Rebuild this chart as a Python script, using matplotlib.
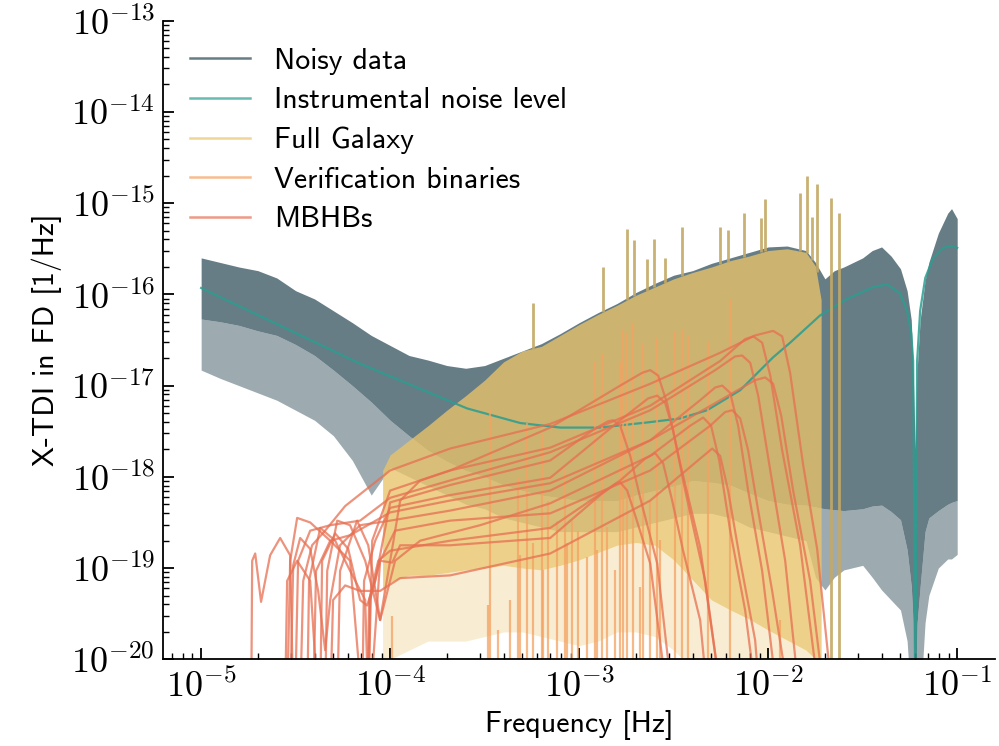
import numpy as np
import matplotlib.pyplot as plt
from matplotlib.ticker import LogLocator, NullFormatter, FuncFormatter
from matplotlib.lines import Line2D

plt.rcParams['font.family'] = ['cmss10', 'DejaVu Sans']
plt.rcParams['mathtext.fontset'] = 'cm'
plt.rcParams['axes.formatter.use_mathtext'] = True
plt.rcParams['font.size'] = 21.5

# все значения, в log10
# noisy data: верх, плотное ядро снизу, нижний край выбросов
noisy_logf = [-5.0, -4.9, -4.8, -4.7, -4.6, -4.5, -4.4, -4.3, -4.2, -4.1,
              -4.0, -3.9, -3.8, -3.7, -3.6, -3.5, -3.4, -3.3, -3.2, -3.1,
              -3.0, -2.9, -2.8, -2.7, -2.6, -2.5, -2.4, -2.3, -2.2, -2.1,
              -2.0, -1.9, -1.8, -1.75, -1.7, -1.65, -1.6, -1.5, -1.45, -1.4,
              -1.35, -1.3, -1.265, -1.243, -1.233, -1.222, -1.212, -1.196, -1.17, -1.15,
              -1.1, -1.05, -1.03, -1.0]
noisy_top = [-15.60, -15.65, -15.70, -15.74, -15.82, -15.96, -16.05, -16.18, -16.31, -16.45,
             -16.56, -16.67, -16.72, -16.78, -16.81, -16.78, -16.70, -16.62, -16.54, -16.43,
             -16.31, -16.20, -16.10, -15.98, -15.88, -15.79, -15.74, -15.66, -15.60, -15.54,
             -15.48, -15.47, -15.52, -15.65, -15.83, -15.74, -15.70, -15.60, -15.52, -15.48,
             -15.58, -15.72, -15.96, -16.28, -16.83, -17.70, -16.83, -16.28, -15.85, -15.65,
             -15.33, -15.11, -15.06, -15.17]
noisy_core = [-16.27, -16.30, -16.34, -16.40, -16.45, -16.55, -16.67, -16.83, -17.00, -17.18,
              -17.38, -17.55, -17.71, -17.83, -17.93, -18.00, -18.09, -18.15, -18.20, -18.23,
              -18.26, -18.26, -18.26, -18.20, -18.15, -18.10, -18.04, -18.06, -18.09, -18.18,
              -18.26, -18.30, -18.31, -18.33, -18.35, -18.36, -18.37, -18.35, -18.32, -18.31,
              -18.38, -18.47, -18.80, -19.20, -19.60, -20.5, -19.60, -19.20, -18.60, -18.45,
              -18.37, -18.30, -18.28, -18.26]
noisy_spikes = [-16.83, -16.92, -17.00, -17.08, -17.16, -17.27, -17.38, -17.55, -17.82, -18.20,
                -17.90, -18.00, -18.10, -18.20, -18.30, -18.35, -18.45, -18.50, -18.55, -18.60,
                -18.60, -18.60, -18.60, -18.55, -18.50, -18.45, -18.40, -18.40, -18.45, -18.55,
                -18.60, -18.65, -18.70, -19.10, -19.24, -19.10, -19.02, -18.97, -19.10, -19.24,
                -19.35, -19.46, -19.80, -20.5, -20.5, -20.5, -20.5, -20.5, -19.60, -19.30,
                -19.00, -18.90, -18.90, -18.85]

# instrumental noise level
instr_logf = [-5.0, -4.159, -3.593, -3.312, -3.101, -2.889, -2.624, -2.466, -2.323, -2.148,
              -1.974, -1.884, -1.725, -1.582, -1.444, -1.370, -1.302, -1.265, -1.243, -1.233,
              -1.222, -1.212, -1.196, -1.169, -1.127, -1.074, -1.026, -1.0]
instr_val = [-15.93, -16.76, -17.25, -17.41, -17.46, -17.46, -17.40, -17.36, -17.27, -17.05,
             -16.69, -16.53, -16.23, -16.05, -15.92, -15.89, -15.99, -16.18, -16.43, -16.73,
             -20.5, -16.73, -16.18, -15.82, -15.60, -15.49, -15.47, -15.49]

# full galaxy: верх, плотная часть снизу, нижний край выбросов
gal_logf = [-4.04, -4.0, -3.9, -3.8, -3.7, -3.6, -3.5, -3.4, -3.3, -3.2,
            -3.1, -3.0, -2.9, -2.8, -2.7, -2.6, -2.5, -2.4, -2.3, -2.2,
            -2.1, -2.0, -1.9, -1.8, -1.75, -1.72]
gal_top = [-17.93, -17.76, -17.60, -17.44, -17.27, -17.11, -16.94, -16.74, -16.62, -16.57,
           -16.45, -16.33, -16.22, -16.12, -16.01, -15.92, -15.83, -15.76, -15.70, -15.63,
           -15.58, -15.52, -15.50, -15.54, -15.69, -16.06]
gal_low = [-19.24, -19.15, -19.08, -19.08, -19.05, -19.02, -19.00, -18.97, -19.00, -19.02,
           -18.97, -18.91, -18.83, -18.75, -18.72, -18.75, -18.91, -19.13, -19.35, -19.46,
           -19.56, -19.68, -19.79, -19.90, -20.0, -20.5]
gal_spikes = [-20.5, -20.0, -19.9, -19.8, -19.8, -19.8, -19.75, -19.7, -19.7, -19.75,
              -19.8, -19.85, -19.8, -19.7, -19.7, -19.75, -19.9, -20.1, -20.5, -20.5,
              -20.5, -20.5, -20.5, -20.5, -20.5, -20.5]
# отдельные высокие линии галактики: частота, вершина, основание
gal_peak_logf = [-3.243, -2.873, -2.746, -2.709, -2.640, -2.603, -2.545, -2.455, -2.254, -2.212,
                 -2.127, -2.037, -2.016, -1.831, -1.794, -1.767, -1.741, -1.667, -1.624]
gal_peak_tip = [-16.10, -15.70, -15.28, -15.40, -15.61, -15.39, -15.60, -15.26, -15.26, -15.29,
                -15.11, -15.16, -14.96, -14.89, -14.70, -15.15, -14.79, -14.94, -15.11]
gal_peak_base = [-16.60, -16.19, -16.06, -16.02, -15.96, -15.92, -15.87, -15.80, -15.67, -15.64,
                 -15.59, -15.54, -15.53, -15.52, -15.55, -15.62, -15.75, -20.5, -20.5]

# verification binaries
vb_logf = [-3.989, -3.481, -3.471, -3.429, -3.365, -3.323, -3.312, -3.275, -3.243, -3.196,
           -3.190, -3.164, -3.116, -3.074, -3.063, -3.037, -3.005, -2.958, -2.915, -2.905,
           -2.878, -2.852, -2.810, -2.783, -2.767, -2.746, -2.714, -2.677, -2.661, -2.624,
           -2.587, -2.571, -2.492, -2.455, -2.423, -2.317, -2.201, -1.937]
vb_tip = [-19.52, -19.41, -17.27, -19.68, -19.35, -18.01, -18.86, -17.41, -18.73, -17.52,
          -19.02, -18.26, -18.48, -17.93, -18.73, -18.48, -18.59, -18.88, -16.73, -18.80,
          -16.64, -18.55, -19.02, -16.73, -16.38, -16.43, -16.32, -19.21, -16.54, -18.26,
          -16.48, -18.69, -16.40, -16.38, -16.45, -16.51, -16.05, -19.57]

# MBHBs
mbhb_logf = [
    [-4.476, -4.460, -4.413, -4.344, -4.238, -4.000, -3.683, -3.153, -2.624, -2.254,
     -2.069, -1.974, -1.926, -1.884, -1.815, -1.741, -1.656],
    [-4.407, -4.392, -4.317, -4.212, -4.148, -4.116, -4.095, -4.000, -3.683, -3.153,
     -2.624, -2.254, -2.122, -2.079, -2.032, -1.989, -1.926, -1.831, -1.725],
    [-4.735, -4.730, -4.714, -4.683, -4.635, -4.582, -4.529, -4.513, -4.503, -4.487,
     -4.423, -4.317, -4.159, -4.000, -3.683, -3.153, -2.624, -2.280, -2.175, -2.138,
     -2.095, -2.053, -1.989, -1.910, -1.831],
    [-4.545, -4.529, -4.492, -4.423, -4.317, -4.212, -4.000, -3.683, -3.153, -2.624,
     -2.254, -2.069, -2.016, -1.974, -1.931, -1.868, -1.778, -1.698],
    [-4.529, -4.513, -4.476, -4.423, -4.381, -4.344, -4.317, -4.265, -4.159, -4.000,
     -3.683, -3.153, -2.624, -2.360, -2.280, -2.243, -2.201, -2.159, -2.106, -2.032, -1.947],
    [-4.439, -4.429, -4.370, -4.291, -4.212, -4.132, -4.116, -4.106, -4.053, -3.974,
     -3.683, -3.153, -2.624, -2.307, -2.228, -2.190, -2.148, -2.106, -2.053, -1.979, -1.884],
    [-4.344, -4.333, -4.280, -4.212, -4.132, -4.053, -4.026, -3.974, -3.841, -3.524,
     -3.153, -2.624, -2.413, -2.344, -2.302, -2.259, -2.201, -2.122, -2.058],
    [-4.317, -4.302, -4.238, -4.159, -4.053, -3.947, -3.683, -3.153, -2.624, -2.360,
     -2.296, -2.254, -2.212, -2.148, -2.069, -2.042],
    [-4.280, -4.265, -4.175, -4.116, -4.053, -4.000, -3.947, -3.841, -3.683, -3.153,
     -2.783, -2.667, -2.624, -2.582, -2.534, -2.466, -2.360, -2.243],
    [-4.556, -4.545, -4.492, -4.423, -4.381, -4.148, -4.138, -4.079, -4.000, -3.683,
     -3.153, -2.783, -2.635, -2.587, -2.545, -2.503, -2.439, -2.333, -2.243],
    [-4.122, -4.111, -4.063, -4.000, -3.683, -3.153, -2.783, -2.651, -2.598, -2.556,
     -2.508, -2.450, -2.360, -2.317],
    [-4.370, -4.360, -4.291, -4.222, -4.159, -4.122, -4.079, -4.000, -3.683, -3.153,
     -2.915, -2.847, -2.820, -2.783, -2.730, -2.677, -2.587, -2.503],
    [-4.116, -4.106, -4.053, -3.989, -3.947, -3.683, -3.153, -2.889, -2.810, -2.783,
     -2.746, -2.704, -2.624, -2.529],
]
mbhb_val = [
    [-20.5, -19.14, -18.75, -18.59, -18.32, -17.93, -17.69, -17.42, -16.98, -16.64,
     -16.45, -16.40, -16.46, -16.86, -17.87, -18.79, -20.5],
    [-20.5, -19.03, -18.70, -18.92, -20.5, -20.5, -18.70, -18.15, -17.93, -17.68,
     -17.22, -16.73, -16.49, -16.46, -16.53, -16.89, -17.71, -18.75, -20.5],
    [-20.5, -18.92, -18.84, -19.37, -18.86, -18.67, -18.86, -20.5, -20.5, -18.92,
     -18.59, -18.53, -18.48, -18.23, -18.04, -17.73, -17.27, -16.83, -16.68, -16.67,
     -16.75, -17.11, -17.93, -18.92, -20.5],
    [-20.5, -18.92, -18.45, -18.50, -18.70, -18.64, -18.39, -18.26, -18.07, -17.60,
     -17.16, -16.94, -16.91, -16.98, -17.33, -18.15, -19.14, -20.5],
    [-20.5, -18.97, -18.67, -18.79, -19.25, -19.90, -19.35, -18.75, -18.53, -18.48,
     -18.37, -18.15, -17.60, -17.16, -17.02, -17.00, -17.08, -17.44, -18.15, -19.03, -20.5],
    [-20.5, -19.14, -18.56, -18.70, -19.03, -19.35, -20.5, -20.5, -18.92, -18.59,
     -18.48, -18.40, -17.93, -17.44, -17.29, -17.27, -17.36, -17.71, -18.37, -19.25, -20.5],
    [-20.5, -19.03, -18.48, -18.53, -18.92, -19.57, -19.35, -18.92, -18.70, -18.53,
     -18.29, -17.77, -17.44, -17.35, -17.44, -17.82, -18.59, -19.46, -20.5],
    [-20.5, -19.35, -19.19, -19.25, -19.25, -19.11, -19.08, -18.84, -18.26, -17.80,
     -17.69, -17.77, -18.15, -18.92, -19.79, -20.5],
    [-20.5, -19.03, -18.48, -18.75, -19.57, -18.92, -18.26, -18.04, -17.93, -17.46,
     -17.00, -16.86, -16.83, -16.89, -17.20, -17.85, -18.77, -20.5],
    [-20.5, -19.14, -18.92, -19.14, -20.5, -20.5, -19.14, -18.70, -18.34, -18.20,
     -18.01, -17.38, -17.14, -17.11, -17.19, -17.49, -18.15, -19.14, -20.5],
    [-20.5, -19.35, -18.92, -18.81, -18.70, -18.56, -18.04, -17.80, -17.74, -17.85,
     -18.26, -18.81, -19.57, -20.5],
    [-20.5, -18.92, -18.62, -18.79, -19.35, -19.41, -19.14, -18.28, -18.09, -17.82,
     -17.47, -17.39, -17.38, -17.44, -17.77, -18.23, -18.95, -20.5],
    [-20.5, -19.35, -18.92, -18.94, -18.75, -18.75, -18.67, -18.20, -18.08, -18.06,
     -18.15, -18.42, -18.95, -20.5],
]

c_noise = '#264653'
c_instr = '#2a9d8f'
c_gal = '#e9c46a'
c_vb = '#f4a261'
c_mbhb = '#e76f51'

fig = plt.figure(figsize=(9.99, 7.46), dpi=100)
ax = fig.add_axes([0.1635, 0.1162, 0.8325, 0.8561])

p = lambda a: 10.0 ** np.array(a)

# noisy data
ax.fill_between(p(noisy_logf), p(noisy_spikes), p(noisy_core), color=c_noise, alpha=0.45, lw=0)
ax.fill_between(p(noisy_logf), p(noisy_core), p(noisy_top), color=c_noise, alpha=0.7, lw=0)
# instrumental noise
ax.plot(p(instr_logf), p(instr_val), color=c_instr, lw=1.6, alpha=0.85)
# galaxy
ax.fill_between(p(gal_logf), p(gal_spikes), p(gal_low), color=c_gal, alpha=0.3, lw=0)
ax.fill_between(p(gal_logf), p(gal_low), p(gal_top), color=c_gal, alpha=0.78, lw=0)
ax.vlines(p(gal_peak_logf), p(gal_peak_base), p(gal_peak_tip), color='#c4a965', alpha=0.9, lw=2)
# verification binaries
ax.vlines(p(vb_logf), 10**-20.5, p(vb_tip), color=c_vb, alpha=0.75, lw=1.6)
# MBHBs
for lf, v in zip(mbhb_logf, mbhb_val):
    ax.plot(p(lf), p(v), color=c_mbhb, lw=1.6, alpha=0.75)

ax.set_xscale('log')
ax.set_yscale('log')
ax.set_xlim(10**-5.2, 10**-0.8)
ax.set_ylim(1e-20, 1e-13)

pow_fmt = FuncFormatter(lambda v, pos: r'$10^{%d}$' % int(round(np.log10(v))))
ax.xaxis.set_major_locator(LogLocator(base=10, numticks=20))
ax.yaxis.set_major_locator(LogLocator(base=10, numticks=20))
ax.xaxis.set_major_formatter(pow_fmt)
ax.yaxis.set_major_formatter(pow_fmt)
ax.xaxis.set_minor_locator(LogLocator(base=10, subs=np.arange(2, 10), numticks=100))
ax.yaxis.set_minor_locator(LogLocator(base=10, subs=np.arange(2, 10), numticks=100))
ax.xaxis.set_minor_formatter(NullFormatter())
ax.yaxis.set_minor_formatter(NullFormatter())
ax.tick_params(which='both', direction='in', top=False, right=False)
ax.tick_params(which='major', length=8, width=1.3, labelsize=26)
ax.tick_params(which='minor', length=4.5, width=1.0)
ax.tick_params(axis='x', which='major', pad=7)
ax.tick_params(axis='y', which='major', pad=6)
ax.spines['top'].set_visible(False)
ax.spines['right'].set_visible(False)
for s in ['left', 'bottom']:
    ax.spines[s].set_linewidth(1.3)

ax.set_xlabel('Frequency [Hz]', labelpad=4)
ax.set_ylabel('X-TDI in FD [1/Hz]', labelpad=6)

handles = [
    Line2D([], [], color=c_noise, alpha=0.7, lw=1.8, label='Noisy data'),
    Line2D([], [], color=c_instr, alpha=0.7, lw=1.8, label='Instrumental noise level'),
    Line2D([], [], color=c_gal, alpha=0.7, lw=1.8, label='Full Galaxy'),
    Line2D([], [], color=c_vb, alpha=0.7, lw=1.8, label='Verification binaries'),
    Line2D([], [], color=c_mbhb, alpha=0.7, lw=1.8, label='MBHBs'),
]
ax.legend(handles=handles, loc='upper left', frameon=False, labelspacing=0.42)

fig.savefig('out.png', dpi=100)
